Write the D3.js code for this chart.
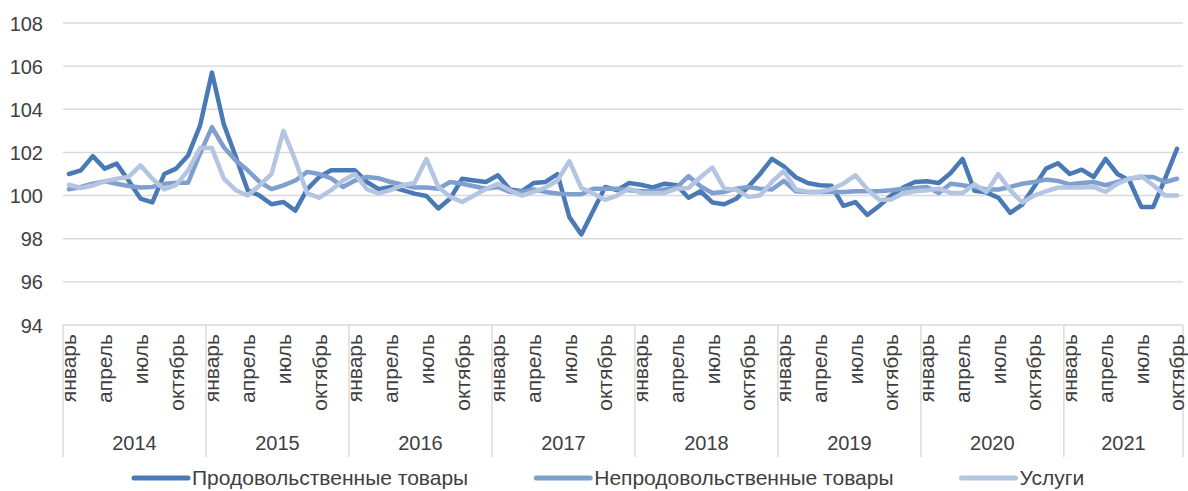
<!DOCTYPE html>
<html><head><meta charset="utf-8">
<script src="https://cdn.jsdelivr.net/npm/d3@7"></script>
<style>
html,body{margin:0;padding:0;background:#fff;}
svg text{font-family:"Liberation Sans",Arial,sans-serif;fill:#404040;}
</style></head>
<body><svg id="c" width="1188" height="491"></svg>
<script>
const yearLabels = ["2014","2015","2016","2017","2018","2019","2020","2021"];
const monthsPerYear = [12,12,12,12,12,12,12,10];
const monthNames = ["январь","февраль","март","апрель","май","июнь","июль","август","сентябрь","октябрь","ноябрь","декабрь"];
const shownMonths = ["январь","апрель","июль","октябрь"];
const yTicks = [94,96,98,100,102,104,106,108];
const seriesNames = ["Продовольственные товары","Непродовольственные товары","Услуги"];

const food = [
101.0,101.17,101.83,101.25,101.48,100.7,99.86,99.68,101.0,101.25,101.86,103.24,
105.7,103.3,101.8,100.25,100.0,99.6,99.7,99.3,100.3,100.86,101.17,101.17,
101.17,100.63,100.3,100.4,100.25,100.09,99.98,99.4,99.86,100.78,100.7,100.63,
100.94,100.28,100.2,100.58,100.63,101.0,99.0,98.2,99.3,100.4,100.25,100.58,
100.5,100.38,100.55,100.48,99.9,100.2,99.68,99.6,99.85,100.4,101.0,101.7,
101.35,100.85,100.58,100.48,100.45,99.52,99.7,99.1,99.52,100.0,100.37,100.63,
100.66,100.58,101.05,101.7,100.22,100.15,99.9,99.2,99.58,100.4,101.25,101.5,
101.0,101.2,100.86,101.7,101.0,100.7,99.47,99.47,100.8,102.17];

const nonFood = [
100.29,100.4,100.55,100.66,100.55,100.44,100.37,100.4,100.55,100.6,100.6,101.94,
103.17,102.24,101.63,101.17,100.63,100.3,100.47,100.7,101.1,101.0,100.8,100.4,
100.7,100.86,100.8,100.63,100.5,100.37,100.37,100.32,100.63,100.55,100.43,100.32,
100.4,100.17,100.17,100.28,100.17,100.1,100.06,100.06,100.32,100.32,100.32,100.25,
100.2,100.2,100.28,100.37,100.9,100.43,100.12,100.17,100.32,100.4,100.32,100.28,
100.68,100.2,100.17,100.17,100.17,100.17,100.2,100.2,100.2,100.25,100.32,100.35,
100.4,100.12,100.55,100.48,100.4,100.28,100.28,100.4,100.55,100.63,100.74,100.68,
100.52,100.58,100.63,100.48,100.63,100.78,100.86,100.86,100.63,100.78];

const services = [
100.5,100.35,100.47,100.66,100.78,100.86,101.4,100.78,100.29,100.5,101.17,102.2,
102.2,100.78,100.25,100.0,100.47,101.0,103.0,101.63,100.1,99.9,100.25,100.7,
101.0,100.3,100.1,100.25,100.48,100.58,101.7,100.4,99.94,99.7,100.0,100.3,
100.55,100.25,100.0,100.17,100.37,100.7,101.6,100.35,100.1,99.8,100.0,100.32,
100.12,100.12,100.12,100.32,100.35,100.85,101.3,100.32,100.28,99.94,100.0,100.63,
101.15,100.28,100.17,100.17,100.3,100.55,100.94,100.3,99.8,99.82,100.1,100.2,
100.25,100.32,100.12,100.12,100.52,100.17,101.0,100.25,99.68,100.0,100.2,100.37,
100.37,100.37,100.4,100.17,100.55,100.78,100.9,100.48,100.0,100.0];

const colors = ["#4a7ab5","#7f9fcf","#b4c5e2"];

const cats = [];
yearLabels.forEach((y,yi)=>{ for(let m=0;m<monthsPerYear[yi];m++) cats.push({year:y, month:monthNames[m]}); });

const svg = d3.select("#c");
const L=63, R=1183, T=23, B=325;
const x = d3.scaleBand().domain(d3.range(cats.length)).range([L,R]).paddingInner(0).paddingOuter(0);
const xc = i => x(i)+x.bandwidth()/2;
const y = d3.scaleLinear().domain([94,108]).range([B,T]);

svg.append("g").selectAll("line").data(yTicks).join("line")
  .attr("x1",L).attr("x2",R).attr("y1",d=>y(d)).attr("y2",d=>y(d))
  .attr("stroke","#d9d9d9").attr("stroke-width",1.4);

const yAxis = d3.axisLeft(y).tickValues(yTicks).tickSize(0).tickPadding(0).tickFormat(d3.format("d"));
const gy = svg.append("g").attr("transform",`translate(${L-20},0)`).call(yAxis);
gy.select(".domain").remove();
gy.selectAll("text").style("font-size","20px").style("font-family","'Liberation Sans',Arial,sans-serif").attr("fill","#404040").attr("dy","0.35em");

let idx=0; const bounds=[0];
monthsPerYear.forEach(n=>{idx+=n; bounds.push(idx);});
svg.append("g").selectAll("line").data(bounds).join("line")
  .attr("x1",d=> d<cats.length? x(d): R).attr("x2",d=> d<cats.length? x(d): R)
  .attr("y1",B).attr("y2",457).attr("stroke","#d9d9d9").attr("stroke-width",1.4);

svg.append("g").selectAll("text").data(cats.map((c,i)=>({c,i})).filter(d=>shownMonths.includes(d.c.month)))
  .join("text")
  .attr("transform",d=>`translate(${xc(d.i)},${B+9}) rotate(-90)`)
  .attr("text-anchor","end").attr("dy","0.35em")
  .style("font-size","21px").text(d=>d.c.month);

svg.append("g").selectAll("text").data(yearLabels).join("text")
  .attr("x",(d,i)=>{const a=bounds[i], b=bounds[i+1]; const xa=x(a); const xb = b<cats.length? x(b): R; return (xa+xb)/2;})
  .attr("y",443).attr("dy","0.35em").attr("text-anchor","middle")
  .style("font-size","20px").text(d=>d);

const line = d3.line().x((d,i)=>xc(i)).y(d=>y(d));
[food,nonFood,services].forEach((s,k)=>{
  svg.append("path").datum(s).attr("d",line).attr("fill","none")
    .attr("stroke",colors[k]).attr("stroke-width",4.5)
    .attr("stroke-linejoin","round").attr("stroke-linecap","round");
});

const lg = svg.append("g");
let lx = 134; const ly = 478;
seriesNames.forEach((n,k)=>{
  lg.append("line").attr("x1",lx).attr("x2",lx+54).attr("y1",ly).attr("y2",ly)
    .attr("stroke",colors[k]).attr("stroke-width",5).attr("stroke-linecap","round");
  const t = lg.append("text").attr("x",lx+58).attr("y",ly).attr("dy","0.35em")
    .style("font-size","21px").text(n);
  lx = lx+58+t.node().getComputedTextLength()+68;
});
</script></body></html>
